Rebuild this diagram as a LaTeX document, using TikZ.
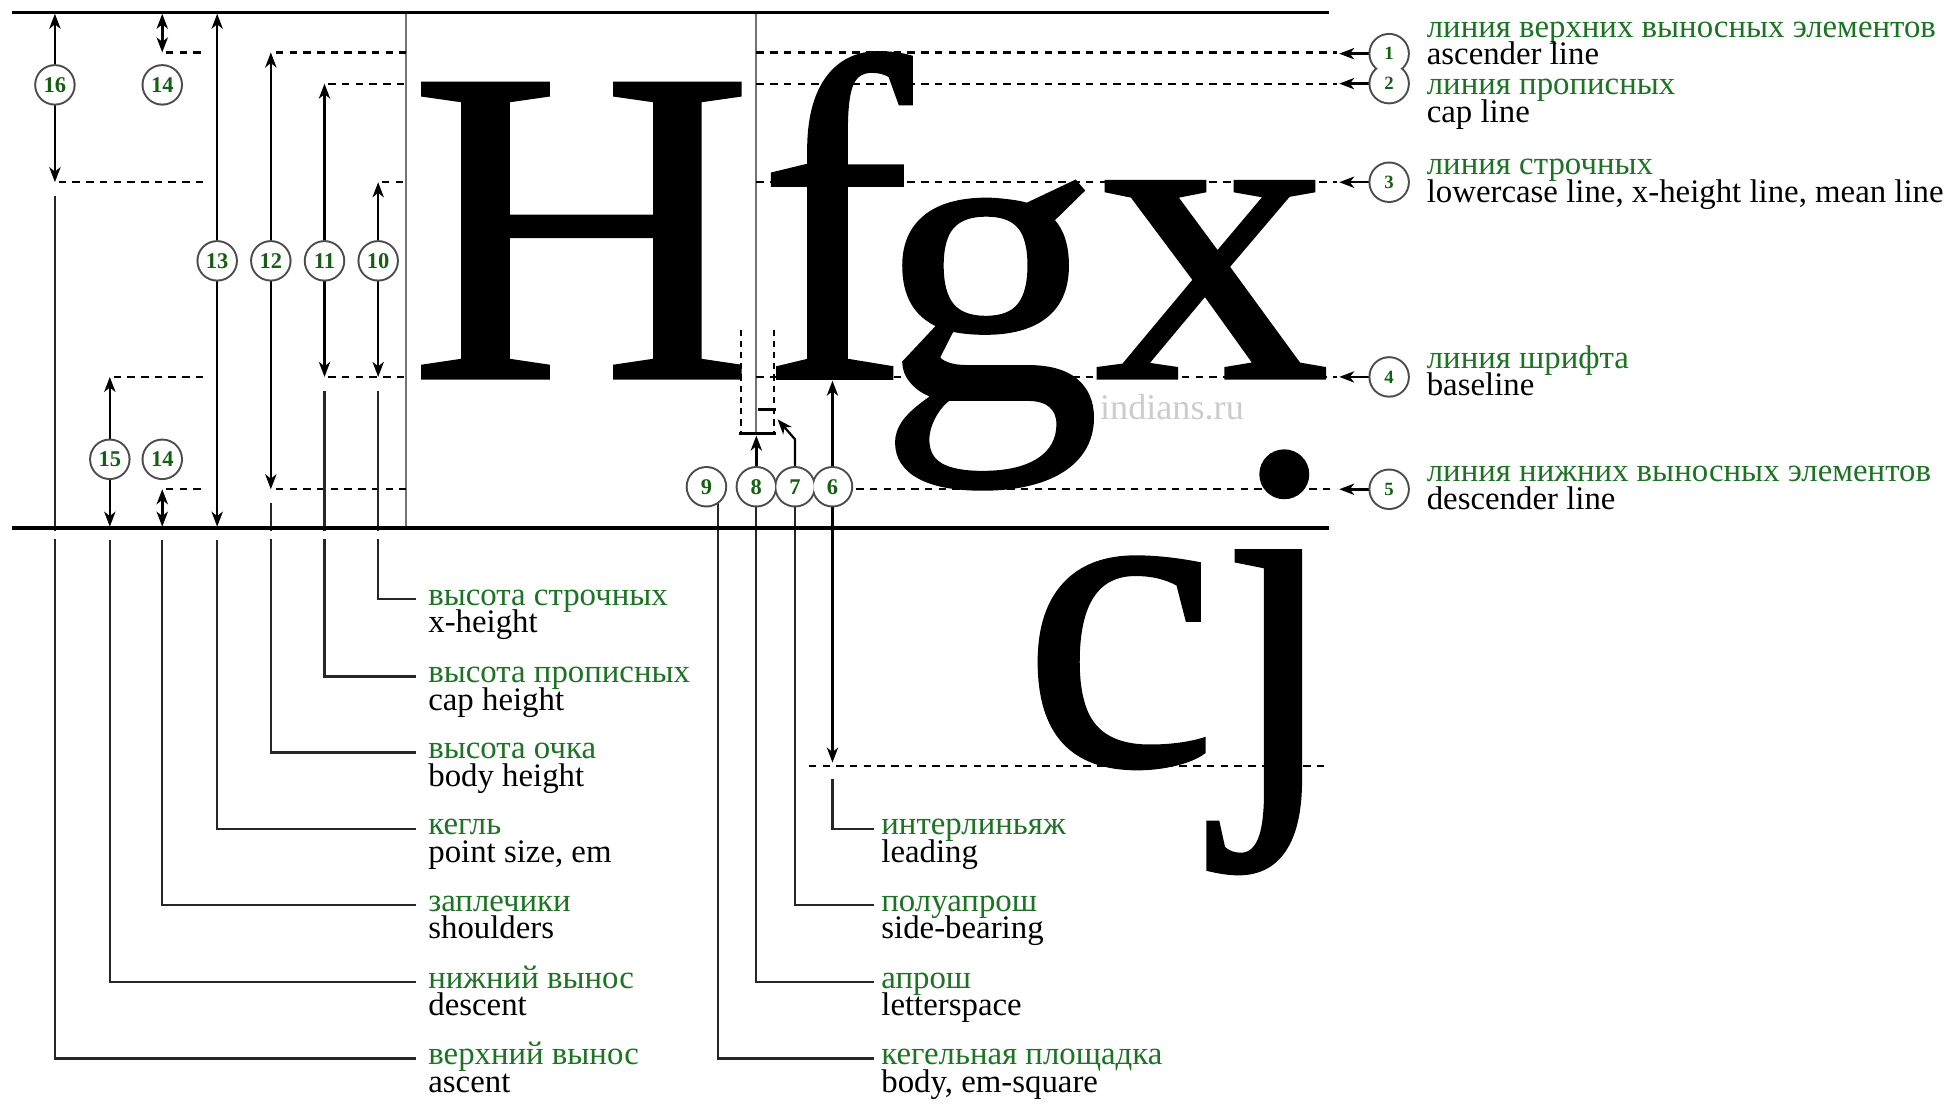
\documentclass[tikz,border=0pt]{standalone}
\usepackage{fontspec}
\setmainfont{Liberation Serif}
\newfontfamily\glyphf[FakeBold=0.8]{Liberation Serif}
\usetikzlibrary{arrows.meta}
\definecolor{lblgreen}{RGB}{28,115,36}
\definecolor{numgreen}{RGB}{20,95,20}
\definecolor{ringgray}{RGB}{75,75,75}
\definecolor{guidegray}{RGB}{115,115,115}
\newcommand\lblfont{\fontsize{26.3}{21}\selectfont}
\pgfdeclarelayer{glyphs}
\pgfdeclarelayer{lines}
\pgfsetlayers{glyphs,lines,main}
\begin{document}
\begin{tikzpicture}[x=1pt,y=-1pt,
  >={Stealth[length=12pt,width=9pt,inset=3.5pt]},
  ringout/.style={circle,minimum size=30pt,inner sep=0pt,draw=ringgray,line width=3.2pt,fill=white},
  ringin/.style={circle,minimum size=30pt,inner sep=0pt,fill=white,text=numgreen,font=\fontsize{18}{18}\selectfont\bfseries},
  ringinS/.style={ringin,font=\fontsize{15}{15}\selectfont\bfseries},
  guide/.style={line width=1.8pt,dash pattern=on 6pt off 5pt},
  thinguide/.style={line width=1.5pt,dash pattern=on 5pt off 4pt},
  dim/.style={line width=2pt,<->},
  tip/.style={line width=2pt,->},
  leader/.style={line width=1.8pt,draw=black!85},
  rulel/.style={line width=3pt},
  vgray/.style={line width=1.5pt,draw=guidegray},
  grn/.style={text=lblgreen,inner sep=0pt,anchor=base west,font=\lblfont,text height=12pt,text depth=2pt},
  blk/.style={text=black,inner sep=0pt,anchor=base west,font=\lblfont,text height=12pt,text depth=2pt},
  glyph/.style={inner sep=0pt,anchor=south west}
]
\useasboundingbox (0,0) rectangle (1568,884);

% ---------- big glyphs ----------
\begin{pgfonlayer}{glyphs}
\node[glyph] (gH) at (327.7,303) {\resizebox*{275.9pt}{236pt}{\glyphf H}};
\node[glyph] (gf) at (607.7,303) {\resizebox*{122pt}{260pt}{\glyphf f}};
\node[glyph] (gg) at (703,392) {\resizebox*{178.7pt}{246pt}{\glyphf g}};
\node[glyph] (gx) at (876.6,303) {\resizebox*{188.8pt}{157pt}{\glyphf x}};
\node[glyph] (gc) at (819.2,616) {\resizebox*{156pt}{169pt}{\glyphf c}};
\begin{scope}
\clip (940,440) rectangle (1080,720);
\node[glyph] (gj) at (977.6,700) {\resizebox*{95pt}{336pt}{\glyphf j}};
\end{scope}
\fill (1029,380) circle (20);
\end{pgfonlayer}

% ---------- circles ----------
\foreach \px/\py in {44/68,130/68,174/209,217/209,260/209,303/209,88/368,130/368,
  566/390,606/390,637/390,667/390,1113/43,1113/67,1113/146,1113/302,1113/392}
  \node[ringout] at (\px,\py) {};
\foreach \nm/\px/\py/\tx in {16/44/68/16,14a/130/68/14,13/174/209/13,12/217/209/12,
  11/260/209/11,10/303/209/10,15/88/368/15,14b/130/368/14,
  9/566/390/9,8/606/390/8,7/637/390/7,6/667/390/6}
  \node[ringin] (n\nm) at (\px,\py) {\tx};
\foreach \nm/\py in {1/43,2/67,3/146,4/302,5/392}
  \node[ringinS] (n\nm) at (1113,\py) {\nm};

% ---------- labels right ----------
\node[grn] (l1) at (1143,30) {линия верхних выносных элементов};
\node[blk] (l1b) at (1143,52) {ascender line};
\node[grn] (l2) at (1143,76) {линия прописных};
\node[blk] (l2b) at (1143,98) {cap line};
\node[grn] (l3) at (1143,140) {линия строчных};
\node[blk] (l3b) at (1143,162) {lowercase line, x-height line, mean line};
\node[grn] (l4) at (1143,295) {линия шрифта};
\node[blk] (l4b) at (1143,317) {baseline};
\node[grn] (l5) at (1143,386) {линия нижних выносных элементов};
\node[blk] (l5b) at (1143,408) {descender line};

% ---------- labels bottom left ----------
\node[grn] (l10) at (343,485) {высота строчных};
\node[blk] at (343,507) {x-height};
\node[grn] (l11) at (343,547) {высота прописных};
\node[blk] at (343,569) {cap height};
\node[grn] (l12) at (343,608) {высота очка};
\node[blk] at (343,630) {body height};
\node[grn] (l13) at (343,669) {кегль};
\node[blk] at (343,691) {point size, em};
\node[grn] (l14) at (343,730) {заплечики};
\node[blk] at (343,752) {shoulders};
\node[grn] (l15) at (343,792) {нижний вынос};
\node[blk] at (343,814) {descent};
\node[grn] (l16) at (343,853) {верхний вынос};
\node[blk] at (343,875) {ascent};

% ---------- labels bottom right ----------
\node[grn] (l6) at (706,669) {интерлиньяж};
\node[blk] at (706,691) {leading};
\node[grn] (l7) at (706,730) {полуапрош};
\node[blk] at (706,752) {side-bearing};
\node[grn] (l8) at (706,792) {апрош};
\node[blk] at (706,814) {letterspace};
\node[grn] (l9) at (706,853) {кегельная площадка};
\node[blk] at (706,875) {body, em-square};

\node[text=black!20,font=\fontsize{29}{29}\selectfont,inner sep=0pt] (wm) at (939,326) {indians.ru};

% ---------- lines ----------
\begin{pgfonlayer}{lines}
\draw[vgray] (325,10) -- (325,423);
\draw[vgray] (606,10) -- (606,347);
% left guide pieces
\draw[guide] (47,146) -- (163,146);
\draw[guide] (133,42) -- (163,42);
\draw[guide] (221,42) -- (325,42);
\draw[guide] (263,67) -- (325,67);
\draw[guide] (306,146) -- (325,146);
\draw[guide] (91,302) -- (163,302);
\draw[guide] (263,302) -- (325,302);
\draw[guide] (133,392) -- (163,392);
\draw[guide] (221,392) -- (325,392);
% right guides
\draw[guide] (606,42) -- (1071,42);
\draw[guide] (606,67) -- (1071,67);
\draw[guide] (606,146) -- (1071,146);
\draw[guide] (606,302) -- (1071,302);
\draw[guide] (686,392) -- (1071,392);
\draw[guide] (648,614) -- (1065,614);
% arrows to right circles
\draw[tip] (n1.west) -- (1073,43);
\draw[tip] (n2.west) -- (1073,67);
\draw[tip] (n3.west) -- (1073,146);
\draw[tip] (n4.west) -- (1073,302);
\draw[tip] (n5.west) -- (1073,392);
% dimension arrows
\draw[dim] (44,11) -- (44,146);
\draw[dim] (130,11) -- (130,42);
\draw[dim] (174,11) -- (174,422);
\draw[dim] (217,42) -- (217,392);
\draw[dim] (260,67) -- (260,302);
\draw[dim] (303,146) -- (303,302);
\draw[dim] (88,302) -- (88,422);
\draw[dim] (130,392) -- (130,422);
\draw[dim] (667,305) -- (667,611);
% leaders left
\draw[leader] (44,157) |- (333,848);
\draw[leader] (88,433) |- (333,787);
\draw[leader] (130,433) |- (333,725);
\draw[leader] (174,433) |- (333,664);
\draw[leader] (217,403) |- (333,603);
\draw[leader] (260,313) |- (333,542);
\draw[leader] (303,313) |- (333,480);
% leaders right
\draw[leader] (667,624) |- (700,664);
\draw[leader] (n7.south) |- (700,725);
\draw[leader] (n8.south) |- (700,787);
\draw[leader] (575,403) |- (700,848);
% letterspace / side-bearing marks
\draw[thinguide] (594,264) -- (594,347);
\draw[thinguide] (620,264) -- (620,347);
\draw[line width=2.5pt] (592,347) -- (622,347);
\draw[line width=2.5pt] (607,328) -- (622,328);
\draw[tip] (n8.north) -- (606,349);
\draw[line width=1.8pt,->] (n7.north) -- (637,352) -- (623,336);
\end{pgfonlayer}

% gaps below the bottom rule
\fill[white] (12,425.5) rectangle (340,432);
\draw[rulel] (10,10) -- (1065,10);
\draw[rulel] (10,423) -- (1065,423);
\end{tikzpicture}
\end{document}
